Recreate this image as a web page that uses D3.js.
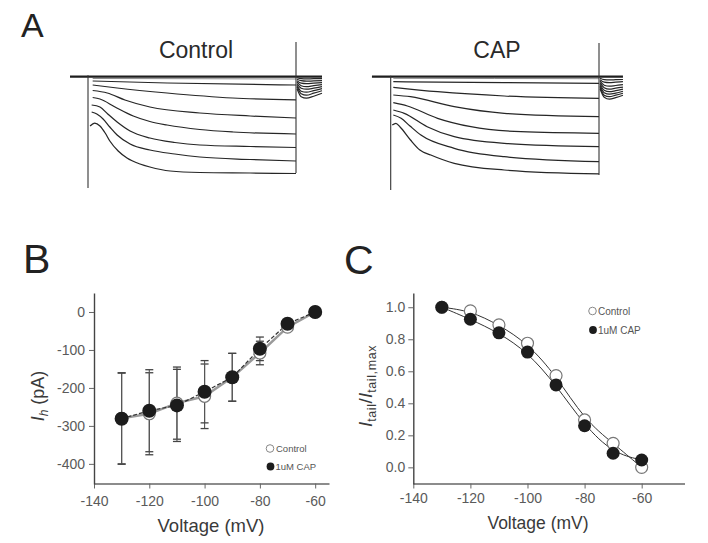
<!DOCTYPE html>
<html><head><meta charset="utf-8">
<script src="https://cdn.jsdelivr.net/npm/d3@7"></script>
<style>
body{margin:0;background:#fff}
svg{display:block}
text{font-family:"Liberation Sans",Arial,Helvetica,sans-serif}
</style>
</head><body>
<svg id="chart" width="708" height="543"></svg>
<script>
// ================= DATA =================
// Panel A: current traces, [time ms, current pA]
const ctrlSteps = [
  [[45,-18],[1000,-20],[2000,-23]],
  [[45,-43],[760,-63],[2000,-83]],
  [[45,-83],[280,-113],[760,-163],[1390,-213],[2000,-233]],
  [[45,-138],[185,-163],[355,-233],[595,-303],[1075,-363],[1560,-393],[2000,-413]],
  [[45,-208],[115,-223],[260,-303],[435,-393],[595,-448],[760,-483],[1075,-528],[1395,-553],[2000,-573]],
  [[35,-283],[115,-303],[190,-373],[280,-453],[405,-543],[595,-613],[835,-658],[1075,-683],[1560,-698],[2000,-708]],
  [[35,-353],[85,-373],[145,-423],[210,-503],[280,-583],[405,-673],[595,-733],[835,-773],[1075,-803],[1560,-828],[2000,-843]],
  [[20,-493],[65,-463],[115,-493],[165,-563],[210,-643],[290,-743],[375,-813],[500,-873],[595,-903],[790,-943],[1075,-958],[1560,-963],[2000,-968]]
];
const ctrlTails = [
  [[2010,-10],[2050,-20],[2100,-22],[2170,-20],[2250,-20]],
  [[2010,-25],[2050,-40],[2100,-45],[2170,-42],[2250,-40]],
  [[2010,-40],[2050,-65],[2100,-70],[2170,-65],[2250,-60]],
  [[2010,-55],[2050,-90],[2100,-100],[2170,-90],[2250,-80]],
  [[2010,-70],[2050,-115],[2100,-125],[2170,-115],[2250,-100]],
  [[2010,-85],[2050,-145],[2100,-155],[2170,-140],[2250,-120]],
  [[2010,-100],[2050,-170],[2100,-185],[2170,-165],[2250,-140]],
  [[2010,-120],[2050,-200],[2100,-215],[2170,-195],[2250,-165]]
];
const capSteps = [
  [[25,-16],[1000,-18],[2000,-20]],
  [[25,-50],[1090,-60],[2000,-66]],
  [[25,-106],[450,-150],[1090,-193],[2000,-216]],
  [[25,-183],[190,-200],[610,-300],[1090,-366],[2000,-400]],
  [[25,-260],[160,-293],[450,-416],[770,-500],[1250,-550],[2000,-566]],
  [[25,-333],[130,-366],[350,-500],[610,-600],[1090,-666],[2000,-700]],
  [[25,-383],[100,-416],[185,-493],[290,-583],[610,-716],[1090,-800],[2000,-850]],
  [[15,-483],[50,-466],[90,-503],[190,-633],[280,-733],[385,-783],[610,-866],[1090,-933],[2000,-973]]
];
const capTails = [
  [[2010,-15],[2050,-30],[2100,-32],[2160,-30],[2230,-28]],
  [[2010,-30],[2050,-55],[2100,-60],[2160,-55],[2230,-50]],
  [[2010,-45],[2050,-85],[2100,-95],[2160,-88],[2230,-80]],
  [[2010,-60],[2050,-110],[2100,-125],[2160,-115],[2230,-105]],
  [[2010,-75],[2050,-135],[2100,-150],[2160,-140],[2230,-125]],
  [[2010,-90],[2050,-160],[2100,-175],[2160,-165],[2230,-145]],
  [[2010,-105],[2050,-185],[2100,-200],[2160,-185],[2230,-165]],
  [[2010,-120],[2050,-205],[2100,-225],[2160,-210],[2230,-185]]
];
// [time, top pA, bottom pA] of capacitive transients
const ctrlSpikes = [[0,15,-1113],[2000,347,-963]];
const capSpikes  = [[0,10,-1133],[2000,337,-983]];
const ctrlHold = [-173, 2250];
const capHold  = [-180, 2230];

// Panel B: I-V
const voltages = [-130,-120,-110,-100,-90,-80,-70,-60];
const ivCtrl    = [-280,-268,-240,-222,-172,-108,-40,0];
const ivCtrlSem = [120,108,95,85,63,31,10,0];
const ivCap     = [-281,-260,-246,-210,-172,-97,-31,0];
const ivCapSem  = [120,108,95,82,63,31,10,0];
const bYTicks = [0,-100,-200,-300,-400];
const xTicks  = [-140,-120,-100,-80,-60];

// Panel C: activation
const actCtrl = [1.0,0.977,0.89,0.775,0.573,0.296,0.15,0.0];
const actCap  = [1.0,0.925,0.84,0.72,0.515,0.26,0.088,0.046];
const cYTicks = [0.0,0.2,0.4,0.6,0.8,1.0];

const legendLabels = ["Control","1uM CAP"];

// ================= DRAW =================
const svg = d3.select("#chart");
const ink = "#262626";
const hyph = d => String(d);            // plain hyphen-minus like the figure
const oneDec = d => d.toFixed(1);

// panel letters
svg.append("text").attr("x",21).attr("y",37).attr("font-size",34).attr("fill","#222").text("A");
svg.append("text").attr("x",23).attr("y",273).attr("font-size",41).attr("fill","#222").text("B");
svg.append("text").attr("x",344).attr("y",274).attr("font-size",41).attr("fill","#222").text("C");

// ---- Panel A ----
function drawTraces(x0, x1, steps, tails, spikes, hold, title, titleX) {
  const x = d3.scaleLinear().domain([0,2000]).range([x0,x1]);
  const y = d3.scaleLinear().domain([0,-1000]).range([76.7,176.7]);
  const g = svg.append("g");
  const line = d3.line().x(d=>x(d[0])).y(d=>y(d[1])).curve(d3.curveMonotoneX);
  g.append("line").attr("x1",x(hold[0])).attr("x2",x(hold[1]))
    .attr("y1",y(0)).attr("y2",y(0)).attr("stroke","#1e1e1e").attr("stroke-width",2.2);
  steps.forEach((s,i)=>g.append("path").attr("d",line(s)).attr("fill","none")
    .attr("stroke", i===0 ? "#8a8a8a" : ink).attr("stroke-width", i===0?1:1.25));
  tails.forEach((s,i)=>g.append("path").attr("d",line(s)).attr("fill","none")
    .attr("stroke", ink).attr("stroke-width",1.2));
  spikes.forEach(s=>g.append("line").attr("x1",x(s[0])).attr("x2",x(s[0]))
    .attr("y1",y(s[1])).attr("y2",y(s[2])).attr("stroke","#333").attr("stroke-width",1.1));
  g.append("text").attr("x",titleX).attr("y",57.5).attr("text-anchor","middle")
    .attr("font-size",23).attr("fill","#2a2a2a").text(title);
}
drawTraces(88, 296, ctrlSteps, ctrlTails, ctrlSpikes, ctrlHold, "Control", 196);
drawTraces(390.7, 599, capSteps, capTails, capSpikes, capHold, "CAP", 497);

// ---- axes helper ----
function styleAxis(g, lineColor, lineW) {
  g.select(".domain").attr("stroke",lineColor).attr("stroke-width",lineW);
  g.selectAll(".tick line").attr("stroke","#666").attr("stroke-width",1);
  g.selectAll(".tick text").attr("fill","#5a5a5a").attr("font-size",14)
    .attr("font-family",'"Liberation Sans",Arial,sans-serif');
}

// ---- Panel B ----
const xB = d3.scaleLinear().domain([-140,-55]).range([94,329]);
const yB = d3.scaleLinear().domain([-453,50]).range([484,293]);
const gBx = svg.append("g").attr("transform","translate(0,483.5)")
  .call(d3.axisBottom(xB).tickValues(xTicks).tickSize(5).tickSizeOuter(0).tickPadding(8).tickFormat(hyph));
styleAxis(gBx,"#8c8c8c",2);
const gBy = svg.append("g").attr("transform","translate(94,0)")
  .call(d3.axisLeft(yB).tickValues(bYTicks).tickSize(5).tickSizeOuter(0).tickPadding(4).tickFormat(hyph));
styleAxis(gBy,"#444",1.4);

svg.append("text").attr("x",211).attr("y",531.5).attr("text-anchor","middle")
  .attr("font-size",18.5).attr("fill","#3a3a3a").text("Voltage (mV)");
const bLab = svg.append("text").attr("transform","translate(44,396) rotate(-90)")
  .attr("text-anchor","middle").attr("font-size",18).attr("fill","#3a3a3a");
bLab.append("tspan").attr("font-style","italic").text("I");
bLab.append("tspan").attr("font-style","italic").attr("font-size",12).attr("dy",4).text("h");
bLab.append("tspan").attr("dy",-4).text(" (pA)");

const lineB = (vals)=>d3.line().x((d,i)=>xB(voltages[i])).y(d=>yB(d))(vals);
// error bars
function errBars(means, sems) {
  voltages.forEach((v,i)=>{
    if (sems[i] <= 0) return;
    const cx = xB(v), t = yB(means[i]+sems[i]), b = yB(means[i]-sems[i]);
    svg.append("line").attr("x1",cx).attr("x2",cx).attr("y1",t).attr("y2",b).attr("stroke","#555").attr("stroke-width",1.1);
    [t,b].forEach(yy=>svg.append("line").attr("x1",cx-4).attr("x2",cx+4).attr("y1",yy).attr("y2",yy)
      .attr("stroke","#444").attr("stroke-width",1.3));
  });
}
errBars(ivCtrl, ivCtrlSem);
errBars(ivCap, ivCapSem);
svg.append("path").attr("d",lineB(ivCtrl)).attr("fill","none").attr("stroke","#9a9a9a").attr("stroke-width",2.4);
svg.append("path").attr("d",lineB(ivCap)).attr("fill","none").attr("stroke","#333").attr("stroke-width",1.2).attr("stroke-dasharray","4,2");
svg.selectAll(".bo").data(ivCtrl).enter().append("circle")
  .attr("cx",(d,i)=>xB(voltages[i])).attr("cy",d=>yB(d)).attr("r",6)
  .attr("fill","#fff").attr("stroke","#777").attr("stroke-width",1.2);
svg.selectAll(".bf").data(ivCap).enter().append("circle")
  .attr("cx",(d,i)=>xB(voltages[i])).attr("cy",d=>yB(d)).attr("r",7).attr("fill","#1c1c1c");
// legend B
svg.append("circle").attr("cx",270).attr("cy",448.5).attr("r",3.8).attr("fill","#fff").attr("stroke","#888").attr("stroke-width",1);
svg.append("text").attr("x",276).attr("y",452).attr("font-size",9.5).attr("fill","#555").text(legendLabels[0]);
svg.append("circle").attr("cx",270.5).attr("cy",466.5).attr("r",3.9).attr("fill","#1c1c1c");
svg.append("text").attr("x",275.5).attr("y",470).attr("font-size",9.5).attr("fill","#555").text(legendLabels[1]);

// ---- Panel C ----
const xC = d3.scaleLinear().domain([-140,-45]).range([413.3,684.5]);
const yC = d3.scaleLinear().domain([-0.104,1.089]).range([484,293]);
const gCx = svg.append("g").attr("transform","translate(0,483.5)")
  .call(d3.axisBottom(xC).tickValues(xTicks).tickSize(5).tickSizeOuter(0).tickPadding(5).tickFormat(hyph));
styleAxis(gCx,"#8c8c8c",2);
const gCy = svg.append("g").attr("transform","translate(413.3,0)")
  .call(d3.axisLeft(yC).tickValues(cYTicks).tickSize(5).tickSizeOuter(0).tickPadding(3).tickFormat(oneDec));
styleAxis(gCy,"#444",1.4);

svg.append("text").attr("x",538).attr("y",528.5).attr("text-anchor","middle")
  .attr("font-size",17.5).attr("fill","#3a3a3a").text("Voltage (mV)");
const cLab = svg.append("text").attr("transform","translate(372,386) rotate(-90)")
  .attr("text-anchor","middle").attr("font-size",19).attr("fill","#3a3a3a");
cLab.append("tspan").attr("font-style","italic").text("I");
cLab.append("tspan").attr("font-size",12.5).attr("dy",4).attr("letter-spacing",0.6).text("tail");
cLab.append("tspan").attr("dy",-4).text("/");
cLab.append("tspan").attr("font-style","italic").text("I");
cLab.append("tspan").attr("font-size",12.5).attr("dy",4).attr("letter-spacing",0.6).text("tail,max");

const lineC = d3.line().x((d,i)=>xC(voltages[i])).y(d=>yC(d)).curve(d3.curveBasis);
svg.append("path").attr("d",lineC(actCtrl)).attr("fill","none").attr("stroke","#333").attr("stroke-width",1);
svg.append("path").attr("d",lineC(actCap)).attr("fill","none").attr("stroke","#333").attr("stroke-width",1);
svg.selectAll(".co").data(actCtrl).enter().append("circle")
  .attr("cx",(d,i)=>xC(voltages[i])).attr("cy",d=>yC(d)).attr("r",6)
  .attr("fill","#fff").attr("stroke","#777").attr("stroke-width",1.2);
svg.selectAll(".cf").data(actCap).enter().append("circle")
  .attr("cx",(d,i)=>xC(voltages[i])).attr("cy",d=>yC(d)).attr("r",6.5).attr("fill","#1c1c1c");
// legend C
svg.append("circle").attr("cx",592.5).attr("cy",311).attr("r",3.8).attr("fill","#fff").attr("stroke","#888").attr("stroke-width",1);
svg.append("text").attr("x",598).attr("y",314.5).attr("font-size",10).attr("fill","#555").text(legendLabels[0]);
svg.append("circle").attr("cx",593).attr("cy",330).attr("r",3.9).attr("fill","#1c1c1c");
svg.append("text").attr("x",598).attr("y",333.5).attr("font-size",10).attr("fill","#555").text(legendLabels[1]);
</script>
</body></html>
